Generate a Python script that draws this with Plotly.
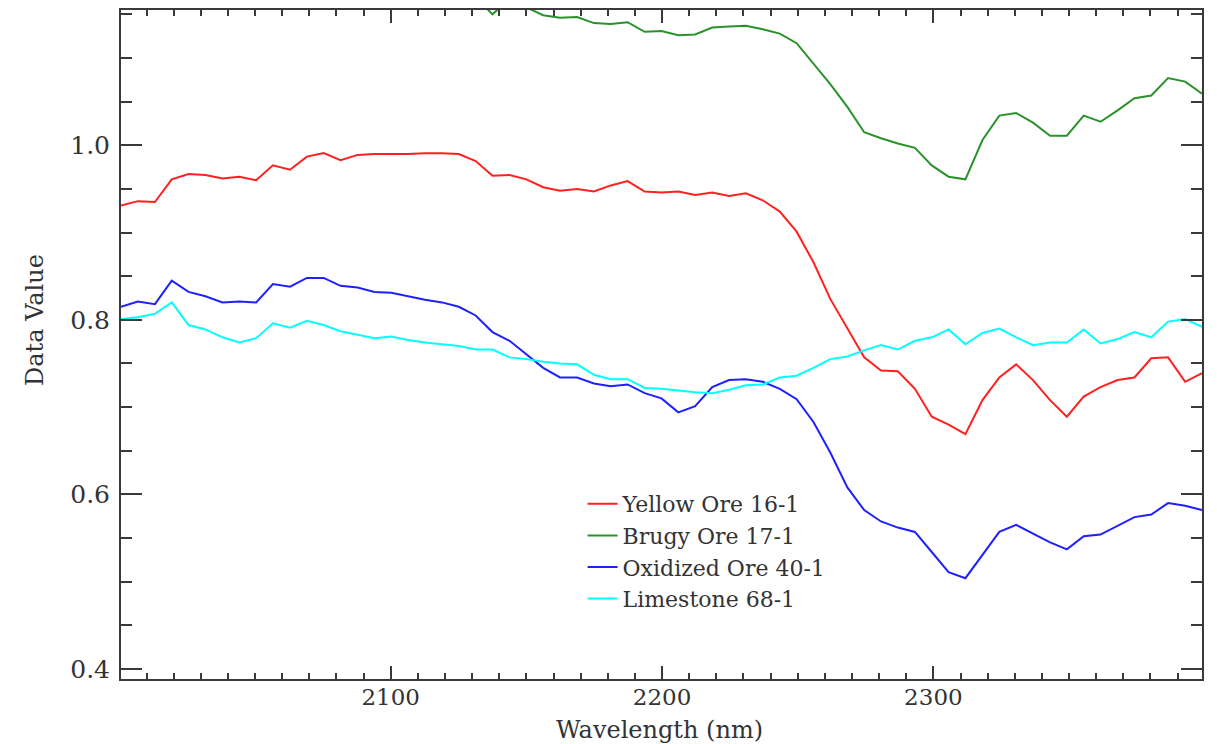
import plotly.graph_objects as go

wavelength = [2000.6, 2006.8, 2013.1, 2019.3, 2025.5, 2031.7, 2038.0, 2044.2, 2050.4, 2056.6,
              2062.9, 2069.1, 2075.3, 2081.5, 2087.8, 2094.0, 2100.2, 2106.4, 2112.6, 2118.9,
              2125.1, 2131.3, 2137.5, 2143.8, 2150.0, 2156.2, 2162.4, 2168.7, 2174.9, 2181.1,
              2187.3, 2193.6, 2199.8, 2206.0, 2212.2, 2218.5, 2224.7, 2230.9, 2237.1, 2243.4,
              2249.6, 2255.8, 2262.0, 2268.3, 2274.5, 2280.7, 2286.9, 2293.2, 2299.4, 2305.6,
              2311.8, 2318.1, 2324.3, 2330.5, 2336.7, 2343.0, 2349.2, 2355.4, 2361.6, 2367.9,
              2374.1, 2380.3, 2386.5, 2392.8, 2399.0]

yellow_ore = [0.931, 0.936, 0.935, 0.961, 0.967, 0.966, 0.962, 0.964, 0.960, 0.977,
              0.972, 0.987, 0.991, 0.983, 0.989, 0.990, 0.990, 0.990, 0.991, 0.991,
              0.990, 0.982, 0.965, 0.966, 0.961, 0.952, 0.948, 0.950, 0.947, 0.954,
              0.959, 0.947, 0.946, 0.947, 0.943, 0.946, 0.942, 0.945, 0.937, 0.924,
              0.901, 0.866, 0.824, 0.790, 0.757, 0.742, 0.741, 0.721, 0.689, 0.680,
              0.669, 0.708, 0.734, 0.749, 0.731, 0.708, 0.689, 0.712, 0.723, 0.731,
              0.734, 0.756, 0.757, 0.729, 0.739]

brugy_ore = [None, None, None, None, None, None, None, None, None, None,
             None, None, None, None, None, None, None, None, None, None,
             1.175, 1.170, 1.150, 1.168, 1.158, 1.149, 1.146, 1.147, 1.140, 1.139,
             1.141, 1.130, 1.131, 1.126, 1.127, 1.135, 1.136, 1.137, 1.133, 1.128,
             1.117, 1.094, 1.070, 1.044, 1.015, 1.008, 1.002, 0.997, 0.977, 0.964,
             0.961, 1.006, 1.034, 1.037, 1.026, 1.011, 1.011, 1.034, 1.027, 1.040,
             1.054, 1.057, 1.077, 1.073, 1.059]

oxidized_ore = [0.815, 0.821, 0.818, 0.845, 0.832, 0.827, 0.820, 0.821, 0.820, 0.841,
                0.838, 0.848, 0.848, 0.839, 0.837, 0.832, 0.831, 0.827, 0.823, 0.820,
                0.815, 0.805, 0.786, 0.776, 0.761, 0.745, 0.734, 0.734, 0.727, 0.724,
                0.726, 0.716, 0.710, 0.694, 0.701, 0.723, 0.731, 0.732, 0.729, 0.721,
                0.709, 0.683, 0.648, 0.608, 0.582, 0.569, 0.562, 0.557, 0.534, 0.511,
                0.504, 0.531, 0.557, 0.565, 0.555, 0.545, 0.537, 0.552, 0.554, 0.564,
                0.574, 0.577, 0.590, 0.587, 0.582]

limestone = [0.801, 0.803, 0.807, 0.820, 0.794, 0.789, 0.780, 0.774, 0.779, 0.796,
             0.791, 0.799, 0.794, 0.787, 0.783, 0.779, 0.781, 0.777, 0.774, 0.772,
             0.770, 0.766, 0.766, 0.757, 0.755, 0.752, 0.750, 0.749, 0.737, 0.732,
             0.732, 0.722, 0.721, 0.719, 0.717, 0.716, 0.720, 0.725, 0.726, 0.734,
             0.736, 0.745, 0.755, 0.758, 0.765, 0.771, 0.766, 0.776, 0.780, 0.789,
             0.772, 0.785, 0.790, 0.780, 0.771, 0.774, 0.774, 0.789, 0.773, 0.778,
             0.786, 0.780, 0.798, 0.801, 0.792]

series_names = ["Yellow Ore 16-1", "Brugy Ore 17-1", "Oxidized Ore 40-1", "Limestone 68-1"]
series_values = [yellow_ore, brugy_ore, oxidized_ore, limestone]
series_colors = ["#ff2020", "#2a922a", "#2020ff", "#00ffff"]

x_tickvals = [2100, 2200, 2300]
y_tickvals = [0.4, 0.6, 0.8, 1.0]
y_ticktext = ["0.4", "0.6", "0.8", "1.0"]

fig = go.Figure()
for name, vals, col in zip(series_names, series_values, series_colors):
    fig.add_trace(go.Scatter(x=wavelength, y=vals, mode="lines", name=name,
                             line=dict(color=col, width=2)))

font_family = "DejaVu Serif"
axis_col = "#3a3a3a"
txt_col = "#333333"

fig.update_layout(
    width=1217, height=744,
    margin=dict(l=121, r=15, t=10, b=65, autoexpand=False),
    paper_bgcolor="white", plot_bgcolor="white",
    font=dict(family=font_family, size=22, color=txt_col),
    showlegend=True,
    legend=dict(x=0.427, y=0.293, xanchor="left", yanchor="top",
                bgcolor="rgba(0,0,0,0)", font=dict(size=22, family=font_family, color=txt_col),
                tracegroupgap=0, itemwidth=30),
    annotations=[
        dict(text="Data Value", xref="paper", yref="paper",
             x=-0.0796, y=0.5366, xanchor="center", yanchor="middle",
             textangle=-90, showarrow=False,
             font=dict(size=24, family=font_family, color=txt_col)),
        dict(text="Wavelength (nm)", xref="paper", yref="paper",
             x=0.4986, y=-0.0765, xanchor="center", yanchor="middle",
             showarrow=False,
             font=dict(size=24, family=font_family, color=txt_col)),
    ],
)

fig.update_xaxes(
    range=[2000.6, 2399.0], showgrid=False, zeroline=False, automargin=False,
    showline=True, linecolor=axis_col, linewidth=2, mirror="allticks",
    ticks="inside", ticklen=13, tickwidth=2, tickcolor=axis_col,
    tickmode="array", tickvals=x_tickvals, ticklabelstandoff=-4,
    tickfont=dict(size=23, family=font_family, color=txt_col),
    minor=dict(ticks="inside", ticklen=6, tickwidth=2, tickcolor=axis_col, dtick=10, tick0=2000, showgrid=False),
)
fig.update_yaxes(
    range=[0.3885, 1.155], showgrid=False, zeroline=False, automargin=False,
    showline=True, linecolor=axis_col, linewidth=2, mirror="allticks",
    ticks="inside", ticklen=21, tickwidth=2, tickcolor=axis_col,
    tickmode="array", tickvals=y_tickvals, ticktext=y_ticktext, ticklabelstandoff=4,
    tickfont=dict(size=25, family=font_family, color=txt_col),
    minor=dict(ticks="inside", ticklen=11, tickwidth=2, tickcolor=axis_col, dtick=0.05, tick0=0.4, showgrid=False),
)

fig.write_html("out.html")
